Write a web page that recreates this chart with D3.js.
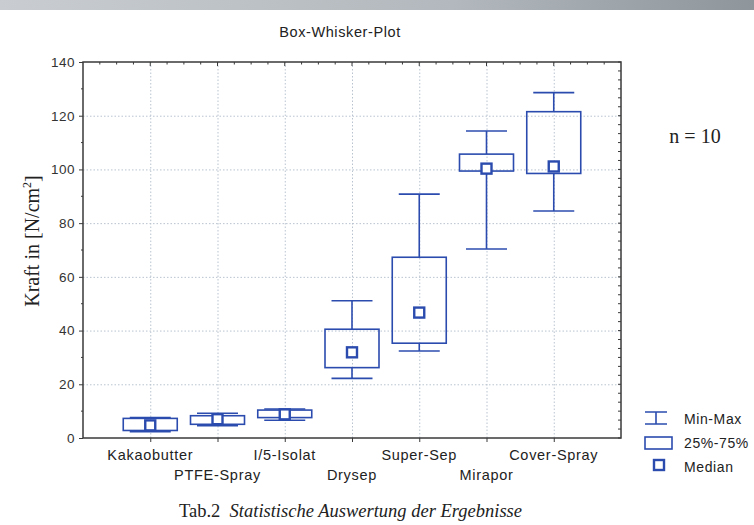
<!DOCTYPE html>
<html>
<head>
<meta charset="utf-8">
<script src="https://cdn.jsdelivr.net/npm/d3@7"></script>
<style>
  html, body { margin: 0; padding: 0; background: #fff; }
  svg { display: block; }
</style>
</head>
<body>
<svg id="chart"></svg>
<script>
// Werte
var categories = ["Kakaobutter", "PTFE-Spray", "I/5-Isolat", "Drysep", "Super-Sep", "Mirapor", "Cover-Spray"];
var minVals    = [2.3, 4.6, 6.6, 22.2, 32.4, 70.4, 84.5];
var q1Vals     = [2.8, 5.1, 7.6, 26.2, 35.3, 99.4, 98.5];
var medianVals = [4.7, 7.0, 8.8, 31.9, 46.7, 100.3, 101.1];
var q3Vals     = [7.3, 8.3, 10.4, 40.5, 67.3, 105.7, 121.5];
var maxVals    = [7.6, 9.2, 10.8, 51.1, 90.8, 114.3, 128.6];
var yTicks     = [0, 20, 40, 60, 80, 100, 120, 140];
var legendLabels = ["Min-Max", "25%-75%", "Median"];

var width = 754, height = 525;
var margin = {top: 62, right: 133, bottom: 87, left: 83};
var blue = "#2b4cae";
var axisColor = "#3a3a3a";
var sansFont = "Arial, 'Liberation Sans', sans-serif";
var serifFont = "'Times New Roman', 'Liberation Serif', serif";

var svg = d3.select("#chart")
    .attr("width", width)
    .attr("height", height);

// grauer Balken oben
var defs = svg.append("defs");
var grad = defs.append("linearGradient").attr("id", "topbar");
grad.append("stop").attr("offset", "0%").attr("stop-color", "#c9cdd1");
grad.append("stop").attr("offset", "60%").attr("stop-color", "#b2b8bd");
grad.append("stop").attr("offset", "100%").attr("stop-color", "#8e969b");
svg.append("rect").attr("x", 0).attr("y", 0).attr("width", width).attr("height", 10)
    .attr("fill", "url(#topbar)");

//Skalen
var x = d3.scalePoint()
    .domain(categories)
    .range([margin.left, width - margin.right])
    .padding(1);

var y = d3.scaleLinear()
    .domain([0, 140])
    .range([height - margin.bottom, margin.top]);

var x0 = margin.left, x1 = width - margin.right;
var y0 = height - margin.bottom, y1 = margin.top;

//Gitterlinien
var grid = svg.append("g")
    .attr("stroke", "#b9c3cf")
    .attr("stroke-width", 1)
    .attr("stroke-dasharray", "1.5,2");
grid.selectAll("line.h")
    .data(yTicks.filter(d => d > 0 && d < 140))
    .join("line")
    .attr("x1", x0).attr("x2", x1)
    .attr("y1", d => y(d) + 0.5).attr("y2", d => y(d) + 0.5);
grid.selectAll("line.v")
    .data(categories)
    .join("line")
    .attr("x1", d => x(d) + 0.5).attr("x2", d => x(d) + 0.5)
    .attr("y1", y1).attr("y2", y0);

// Achsen
var yAxis = svg.append("g")
    .attr("transform", `translate(${x0},0)`)
    .call(d3.axisLeft(y).tickValues(yTicks).tickSize(4).tickPadding(4));
yAxis.select(".domain").remove();
yAxis.selectAll(".tick line").attr("stroke", axisColor);
yAxis.selectAll(".tick text")
    .attr("fill", "#333")
    .style("font", "13.5px " + sansFont)
    .style("letter-spacing", "0.5px");

// Nebenstriche links
svg.append("g").selectAll("line")
    .data(d3.range(10, 140, 20))
    .join("line")
    .attr("x1", x0 - 2).attr("x2", x0)
    .attr("y1", d => y(d)).attr("y2", d => y(d))
    .attr("stroke", axisColor);

// Nebenstriche rechts
svg.append("g").selectAll("line")
    .data(d3.range(0, 140.01, 20 / 6))
    .join("line")
    .attr("x1", x1 - 3).attr("x2", x1)
    .attr("y1", d => y(d)).attr("y2", d => y(d))
    .attr("stroke", axisColor);

// Striche oben und unten
var step = x.step();
var quarterTicks = d3.range(1, 32).map(i => x0 + i * step / 4);
svg.append("g").selectAll("line")
    .data(quarterTicks)
    .join("line")
    .attr("x1", d => d).attr("x2", d => d)
    .attr("y1", y1).attr("y2", (d, i) => (i + 1) % 4 === 0 ? y1 + 4 : y1 + 2.5)
    .attr("stroke", axisColor);

svg.append("g").selectAll("line")
    .data(categories)
    .join("line")
    .attr("x1", d => x(d) + 0.5).attr("x2", d => x(d) + 0.5)
    .attr("y1", y0).attr("y2", y0 + 4)
    .attr("stroke", axisColor);

// Rahmen
svg.append("rect")
    .attr("x", x0).attr("y", y1)
    .attr("width", x1 - x0).attr("height", y0 - y1)
    .attr("fill", "none")
    .attr("stroke", axisColor)
    .attr("stroke-width", 1.5);

// Kategorienbeschriftung (zweizeilig versetzt)
svg.append("g").selectAll("text")
    .data(categories)
    .join("text")
    .attr("x", d => x(d))
    .attr("y", (d, i) => i % 2 === 0 ? y0 + 22 : y0 + 42)
    .attr("text-anchor", "middle")
    .attr("fill", "#222")
    .style("font", "14.5px " + sansFont)
    .style("letter-spacing", "0.7px")
    .text(d => d);

// Boxen
var boxW = 54, capW = 41, medSize = 10;
var boxes = svg.append("g")
    .selectAll("g")
    .data(categories)
    .join("g");

boxes.append("line")
    .attr("x1", d => x(d)).attr("x2", d => x(d))
    .attr("y1", (d, i) => y(maxVals[i])).attr("y2", (d, i) => y(q3Vals[i]))
    .attr("stroke", blue).attr("stroke-width", 1.6);
boxes.append("line")
    .attr("x1", d => x(d)).attr("x2", d => x(d))
    .attr("y1", (d, i) => y(q1Vals[i])).attr("y2", (d, i) => y(minVals[i]))
    .attr("stroke", blue).attr("stroke-width", 1.6);
boxes.append("line")
    .attr("x1", d => x(d) - capW / 2).attr("x2", d => x(d) + capW / 2)
    .attr("y1", (d, i) => y(maxVals[i])).attr("y2", (d, i) => y(maxVals[i]))
    .attr("stroke", blue).attr("stroke-width", 1.6);
boxes.append("line")
    .attr("x1", d => x(d) - capW / 2).attr("x2", d => x(d) + capW / 2)
    .attr("y1", (d, i) => y(minVals[i])).attr("y2", (d, i) => y(minVals[i]))
    .attr("stroke", blue).attr("stroke-width", 1.6);
boxes.append("rect")
    .attr("x", d => x(d) - boxW / 2)
    .attr("y", (d, i) => y(q3Vals[i]))
    .attr("width", boxW)
    .attr("height", (d, i) => y(q1Vals[i]) - y(q3Vals[i]))
    .attr("fill", "none")
    .attr("stroke", blue).attr("stroke-width", 1.6);
boxes.append("rect")
    .attr("x", d => x(d) - medSize / 2)
    .attr("y", (d, i) => y(medianVals[i]) - medSize / 2)
    .attr("width", medSize).attr("height", medSize)
    .attr("fill", "#fff")
    .attr("stroke", blue).attr("stroke-width", 2.4);

// Titel
svg.append("text")
    .attr("x", 340).attr("y", 37)
    .attr("text-anchor", "middle")
    .attr("fill", "#222")
    .style("font", "14.5px " + sansFont)
    .style("letter-spacing", "0.6px")
    .text("Box-Whisker-Plot");

// y-Achsentitel
var yl = svg.append("text")
    .attr("transform", `translate(39,${(y0 + y1) / 2 - 9}) rotate(-90)`)
    .attr("text-anchor", "middle")
    .attr("fill", "#222")
    .style("font", "20px " + serifFont);
yl.append("tspan").text("Kraft in [N/cm");
yl.append("tspan").attr("font-size", "12px").attr("dy", -8).text("2");
yl.append("tspan").attr("dy", 8).text("]");

// n = 10
svg.append("text")
    .attr("x", 695).attr("y", 143)
    .attr("text-anchor", "middle")
    .attr("fill", "#222")
    .style("font", "20px " + serifFont)
    .text("n = 10");

// Legende
var leg = svg.append("g");
var lx = 645;
leg.append("path")
    .attr("d", `M${lx},412H${lx + 22}M${lx},424H${lx + 22}M${lx + 11},412V424`)
    .attr("stroke", blue).attr("stroke-width", 1.6).attr("fill", "none");
leg.append("rect")
    .attr("x", lx).attr("y", 437).attr("width", 27).attr("height", 12)
    .attr("fill", "none").attr("stroke", blue).attr("stroke-width", 1.6);
leg.append("rect")
    .attr("x", lx + 9).attr("y", 460).attr("width", 10).attr("height", 10)
    .attr("fill", "#fff").attr("stroke", blue).attr("stroke-width", 2.4);
leg.selectAll("text")
    .data(legendLabels)
    .join("text")
    .attr("x", 684)
    .attr("y", (d, i) => 424 + i * 24)
    .attr("fill", "#222")
    .style("font", "14px " + sansFont)
    .style("letter-spacing", "0.6px")
    .text(d => d);

// Unterschrift
var cap = svg.append("text")
    .attr("x", 179).attr("y", 517)
    .attr("fill", "#222")
    .style("font", "18.5px " + serifFont);
cap.append("tspan").text("Tab.2\u00a0\u00a0");
cap.append("tspan").attr("font-style", "italic").text("Statistische Auswertung der Ergebnisse");
</script>
</body>
</html>
